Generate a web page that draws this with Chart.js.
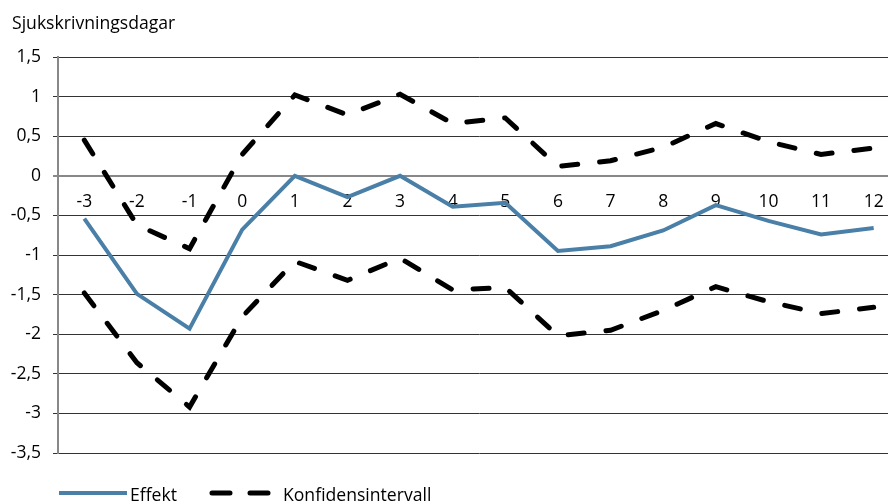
<!DOCTYPE html>
<html>
<head>
<meta charset="utf-8">
<script src="https://cdn.jsdelivr.net/npm/chart.js@4.4.0/dist/chart.umd.min.js"></script>
<style>
  body { margin: 0; width: 888px; height: 504px; overflow: hidden; background: #fff; position: relative; font-family: "Open Sans", sans-serif; }
  #wrap { position: absolute; left: 0; top: 0; width: 900px; height: 504px; }
  .txt { position: absolute; font-size: 17.6px; line-height: 17px; color: #000; white-space: nowrap; }
  svg { position: absolute; }
</style>
</head>
<body>
<div id="wrap"><canvas id="chart"></canvas></div>
<div class="txt" style="left:12px; top:14px;">Sjukskrivningsdagar</div>
<svg style="left:56px; top:487px;" width="76" height="12">
  <line x1="3" y1="6" x2="71" y2="6" stroke="#4a7fa7" stroke-width="4" />
</svg>
<div class="txt" style="left:130px; top:486px;">Effekt</div>
<svg style="left:205px; top:487px;" width="76" height="12">
  <line x1="7" y1="6" x2="68" y2="6" stroke="#000" stroke-width="5" stroke-linecap="round" stroke-dasharray="18 20" />
</svg>
<div class="txt" style="left:283px; top:486px;">Konfidensintervall</div>
<script>
// data
const categories = ['-3', '-2', '-1', '0', '1', '2', '3', '4', '5', '6', '7', '8', '9', '10', '11', '12'];
const effekt = [-0.54, -1.49, -1.93, -0.68, 0.0, -0.27, 0.0, -0.39, -0.34, -0.95, -0.89, -0.69, -0.37, -0.57, -0.74, -0.66];
const ciUpper = [0.45, -0.62, -0.92, 0.27, 1.02, 0.77, 1.03, 0.66, 0.73, 0.12, 0.19, 0.36, 0.66, 0.43, 0.27, 0.35];
const ciLower = [-1.48, -2.36, -2.92, -1.78, -1.08, -1.32, -1.04, -1.44, -1.41, -2.02, -1.95, -1.70, -1.40, -1.59, -1.74, -1.66];

const font = { family: 'Open Sans', size: 17.5 };

const ctx = document.getElementById('chart').getContext('2d');
const chart = new Chart(ctx, {
    type: 'line',
    data: {
        labels: categories,
        datasets: [
            {
                label: 'Konfidensintervall',
                data: ciUpper,
                borderColor: '#000',
                borderWidth: 5,
                borderDash: [16, 22],
                borderCapStyle: 'round',
                pointRadius: 0,
                tension: 0
            },
            {
                label: 'Konfidensintervall (nedre)',
                data: ciLower,
                borderColor: '#000',
                borderWidth: 5,
                borderDash: [16, 22],
                borderCapStyle: 'round',
                pointRadius: 0,
                tension: 0
            },
            {
                label: 'Effekt',
                data: effekt,
                borderColor: '#4a7fa7',
                borderWidth: 4,
                pointRadius: 0,
                tension: 0
            }
        ]
    },
    options: {
        responsive: true,
        maintainAspectRatio: false,
        animation: false,
        layout: { padding: { top: 57, bottom: 51, left: 0, right: 0 } },
        plugins: {
            legend: { display: false },
            tooltip: { enabled: false }
        },
        scales: {
            x: {
                type: 'category',
                position: { y: 0 },
                offset: true,
                grid: { display: false },
                border: { display: false },
                ticks: { color: '#000', font: font, padding: 8, maxRotation: 0, autoSkip: false }
            },
            y: {
                min: -3.5,
                max: 1.5,
                afterFit: (scale) => { scale.width = 58; },
                border: { color: '#888', width: 2 },
                grid: {
                    color: (c) => c.tick && c.tick.value === 0 ? '#888' : '#333',
                    lineWidth: (c) => c.tick && c.tick.value === 0 ? 2 : 1,
                    tickLength: 5
                },
                ticks: {
                    stepSize: 0.5,
                    color: '#000',
                    font: font,
                    padding: 12,
                    callback: (v) => String(v).replace('.', ',')
                }
            }
        }
    }
});
</script>
</body>
</html>
